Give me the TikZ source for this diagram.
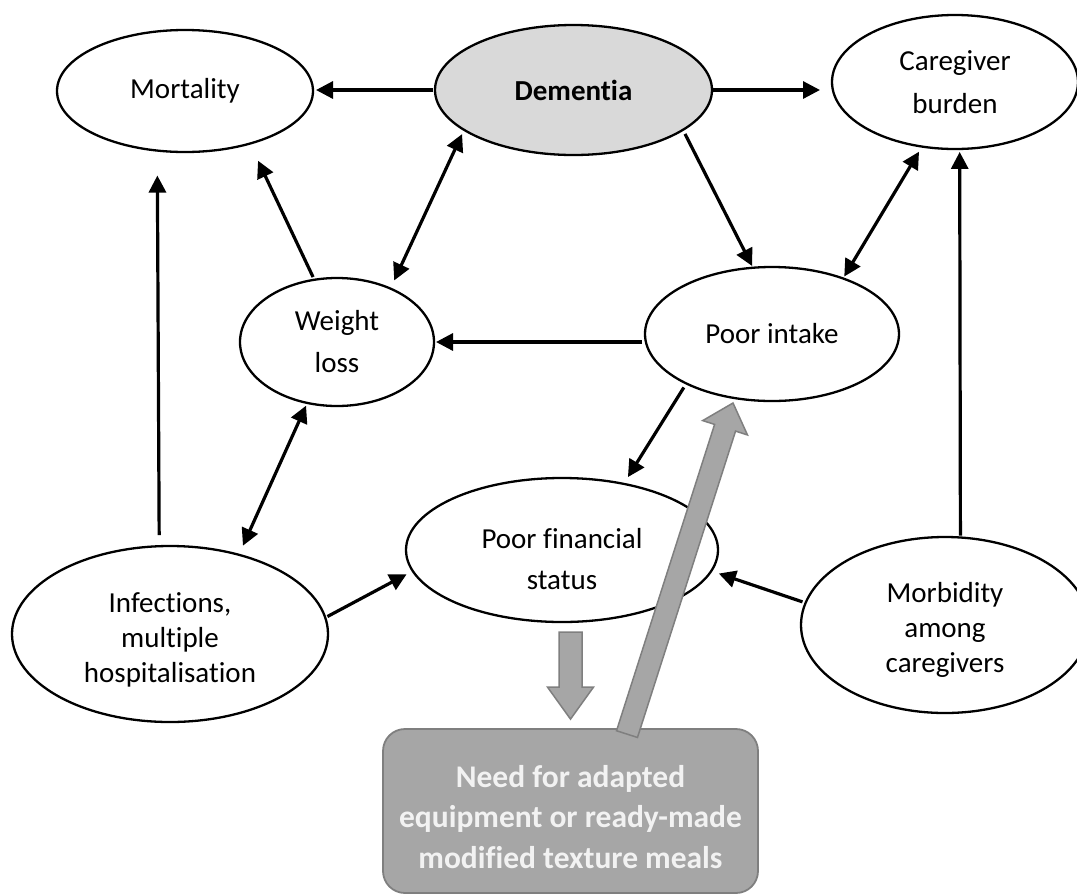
\documentclass[tikz,border=0pt]{standalone}
\usepackage{fontspec}
\setmainfont{Carlito}[Ligatures=NoCommon]
\usetikzlibrary{shapes.geometric,arrows.meta,calc}
\definecolor{demfill}{HTML}{D9D9D9}
\definecolor{blockfill}{HTML}{A6A6A6}
\definecolor{blockline}{HTML}{7F7F7F}
\definecolor{boxtext}{HTML}{F2F2F2}

% wide grey block arrow: tail, tip, shaft half-width, head half-width, head length
\newcommand\grayarrow[5]{%
  \coordinate (ga-base) at ($(#2)!#5!(#1)$);
  \draw[block] ($(#1)!#3!90:(#2)$) -- ($(ga-base)!#3!90:(#2)$)
    -- ($(ga-base)!#4!90:(#2)$) -- (#2) -- ($(ga-base)!#4!-90:(#2)$)
    -- ($(ga-base)!#3!-90:(#2)$) -- ($(#1)!#3!-90:(#2)$) -- cycle;
}

\begin{document}
\begin{tikzpicture}[x=1pt,y=-1pt,
  factor/.style={ellipse, draw=black, line width=2.3pt, inner sep=0pt,
    outer sep=0pt, align=center},
  txt/.style={font=\fontsize{29}{#1}\selectfont, align=center, inner sep=0pt},
  link/.style={line width=3.2pt, -{Triangle[length=17pt,width=17pt]}},
  both/.style={line width=3.2pt,
    {Triangle[length=17pt,width=17pt]}-{Triangle[length=17pt,width=17pt]}},
  block/.style={fill=blockfill, draw=blockline, line width=1.5pt, line join=miter},
]
\useasboundingbox (0,0) rectangle (1077,895);
\clip (0,0) rectangle (1077,895);

% factors
\node[factor, txt=35, minimum width=256pt, minimum height=122pt] (mort) at (185,91) {Mortality};
\node[factor, fill=demfill, txt=35, font=\bfseries\fontsize{29}{35}\selectfont,
      minimum width=277pt, minimum height=130pt] (dem) at (573.5,90) {Dementia};
\node[factor, txt=43, minimum width=246pt, minimum height=134pt] (care) at (955,82) {Caregiver\\burden};
\node[factor, txt=42, minimum width=194pt, minimum height=128pt] (wl) at (337,342) {Weight\\loss};
\node[factor, txt=35, minimum width=254pt, minimum height=134pt] (pi) at (772,334) {Poor intake};
\node[factor, minimum width=312pt, minimum height=144pt] (pf) at (562,550) {};
\node[txt=41] (pf-t) at ($(pf)+(0,9)$) {Poor financial\\status};
\node[factor, minimum width=316pt, minimum height=176pt] (inf) at (170,634) {};
\node[txt=35] (inf-t) at ($(inf)+(0,6)$) {Infections,\\multiple\\hospitalisation};
\node[factor, minimum width=288pt, minimum height=176pt] (morb) at (945,625) {};
\node[txt=35] (morb-t) at ($(morb)+(0,5)$) {Morbidity\\among\\caregivers};

% need box
\node[draw=blockline, fill=blockfill, line width=1.8pt, rounded corners=22pt,
      minimum width=375pt, minimum height=164pt, inner sep=0pt] (box) at (570.5,811) {};
\node[text=boxtext, font=\bfseries\fontsize{31.5}{40.5}\selectfont, align=center,
      inner sep=0pt] (box-t) at ($(box)+(0,6)$) {Need for adapted\\equipment or ready-made\\modified texture meals};

% causal links
\draw[link, shorten <=2pt, shorten >=3pt] (dem.west) -- (dem.west -| mort.east);
\draw[link, shorten >=12pt] (dem.east) -- (dem.east -| care.west);
\draw[link, shorten <=3pt, shorten >=19pt] (wl.110.8) -- (mort.-39);
\draw[both, shorten <=9pt, shorten >=4.7pt] (wl.45.9) -- (dem.200);
\draw[link, shorten <=4.6pt, shorten >=2pt] (dem.-20) -- (pi.106.1);
\draw[both, shorten <=2.3pt, shorten >=6pt] (pi.38.7) -- (care.243.9);
\draw[link, shorten <=3pt, shorten >=2pt] (pi.west |- wl.east) -- (wl.east);
\draw[link, shorten <=4.7pt, shorten >=8pt] (pi.210.7) -- (pf.47.6);
\draw[both, shorten <=3pt, shorten >=10pt] (wl.244.8) -- (inf.49.7);
\draw[link, shorten <=11pt, shorten >=25pt] (inf.97.8) -- (mort.245.7);
\draw[link, shorten <=2.5pt, shorten >=7pt] (inf.6.6) -- (pf.188.4);
\draw[link, shorten <=3.3pt, shorten >=8pt] (morb.171.5) -- (pf.-8.6);
\draw[link, shorten <=2pt, shorten >=3pt] (morb.80.3) -- (care.274.3);

% grey block arrows
\coordinate (dtail) at ($(pf.south -| box.north)+(0,10)$);
\coordinate (dtip) at ($(box.north)+(0,-9)$);
\grayarrow{dtail}{dtip}{11.5pt}{23pt}{32pt}
\coordinate (utail) at ($(box.north)+(56.5,6)$);
\coordinate (utip) at ($(pi.south)+(-39,2)$);
\grayarrow{utail}{utip}{11pt}{23.5pt}{26pt}
\end{tikzpicture}
\end{document}
